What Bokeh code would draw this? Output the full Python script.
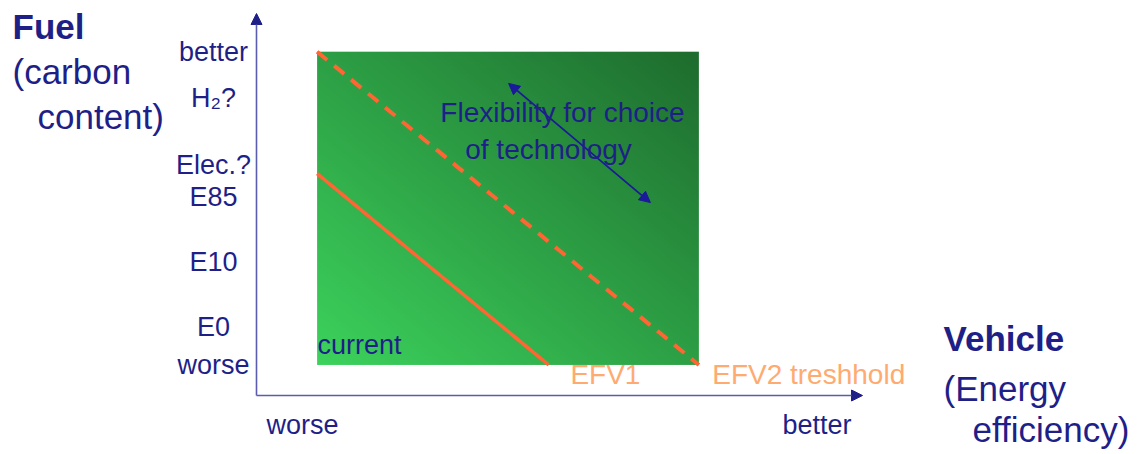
import numpy as np
from bokeh.plotting import figure
from bokeh.models import Range1d, Arrow, NormalHead, Label
from bokeh.core.properties import value
from bokeh.embed import file_html
from bokeh.resources import INLINE

# ---------------- data (chart units: both axes run 0 = worse .. 100 = better) -------------
axis_max = 100
zone_x = [10, 73]            # flexibility zone (vehicle efficiency)
zone_y = [8, 90]             # flexibility zone (fuel carbon content)
current_x = [10, 48.2]       # current / EFV1 limit
current_y = [58.1, 8]
efv2_x = [10, 73]            # EFV2 threshold
efv2_y = [90, 8]
flex_arrow_x = [41.6, 65.0]
flex_arrow_y = [81.7, 50.5]

fuel_labels = ["worse", "E0", "E10", "E85", "Elec.?", "H\u2082?", "better"]
fuel_label_pos = [8.0, 18.0, 35.0, 52.0, 60.4, 77.9, 90.0]
vehicle_labels = ["worse", "better"]
vehicle_label_pos = [7.6, 92.5]
line_labels = ["EFV1", "EFV2 treshhold"]
line_label_pos = [51.8, 75.2]

# ---------------- layout helpers ---------------------------------------------------------
W, H = 1138, 454
SX, SY = 6.06, 3.82          # px per chart unit
OX, OY = 256, 395            # origin in page pixels
def X(px): return (px - OX) / SX
def Y(py): return (OY - py) / SY

NAVY = "#1f1f88"
AXIS = "#5b5bb0"
ORANGE = "#ff6633"
LIGHT_ORANGE = "#ffaa70"
FONT = "Liberation Sans"

p = figure(width=W, height=H, output_backend="svg", toolbar_location=None,
           x_range=Range1d(X(0), X(W)), y_range=Range1d(Y(H), Y(0)),
           min_border=0, outline_line_color=None, background_fill_color="white")
p.axis.visible = False
p.grid.visible = False

# gradient-filled zone
n = 120
img = np.empty((n, n), dtype=np.uint32)
view = img.view(dtype=np.uint8).reshape((n, n, 4))
u = np.linspace(0, 1, n)
t = (u[None, :] + u[:, None]) / 2.0   # 0 at bottom-left, 1 at top-right
c0 = np.array([60, 210, 92]); c1 = np.array([30, 108, 46])
for k in range(3):
    view[:, :, k] = (c0[k] + (c1[k] - c0[k]) * t).astype(np.uint8)
view[:, :, 3] = 255
p.image_rgba(image=[img], x=zone_x[0], y=zone_y[0],
             dw=zone_x[1] - zone_x[0], dh=zone_y[1] - zone_y[0])

# orange lines
p.line(current_x, current_y, line_color=ORANGE, line_width=3.5)
p.line(efv2_x, efv2_y, line_color=ORANGE, line_width=4, line_dash="13 9")

# axes with arrows
p.add_layout(Arrow(x_start=0, y_start=0, x_end=0, y_end=axis_max,
                   line_color=AXIS, line_width=1.6,
                   end=NormalHead(size=11, fill_color=NAVY, line_color=NAVY)))
p.add_layout(Arrow(x_start=0, y_start=0, x_end=axis_max, y_end=0,
                   line_color=AXIS, line_width=1.6,
                   end=NormalHead(size=11, fill_color=NAVY, line_color=NAVY)))

# double-headed flexibility arrow
p.add_layout(Arrow(x_start=flex_arrow_x[0], y_start=flex_arrow_y[0],
                   x_end=flex_arrow_x[1], y_end=flex_arrow_y[1],
                   line_color="#1a1a9a", line_width=1.8,
                   start=NormalHead(size=11, fill_color="#1a1a9a", line_color="#1a1a9a"),
                   end=NormalHead(size=11, fill_color="#1a1a9a", line_color="#1a1a9a")))

# fuel tick labels
p.text(x=[X(213)] * len(fuel_labels), y=fuel_label_pos, text=fuel_labels,
       text_font=value(FONT), text_font_size="27px", text_color=NAVY,
       text_align="center", text_baseline="alphabetic")
# vehicle tick labels
p.text(x=vehicle_label_pos, y=[Y(424)] * 2, text=vehicle_labels,
       text_font=value(FONT), text_font_size="27px", text_color=NAVY,
       text_align="center", text_baseline="alphabetic")
# line labels
p.text(x=line_label_pos, y=[Y(374)] * 2, text=line_labels,
       text_font=value(FONT), text_font_size="28px", text_color=LIGHT_ORANGE,
       text_align="left", text_baseline="alphabetic")

def lab(txt, px, py, size=27, bold=False, color=NAVY, align="left"):
    p.add_layout(Label(x=X(px), y=Y(py - 0.4 * size), text=txt, text_font=FONT,
                       text_font_size=f"{size}px", text_color=color, text_align=align,
                       text_baseline="alphabetic",
                       text_font_style="bold" if bold else "normal"))

lab("current", 317, 355, size=27)
lab("Flexibility for choice", 562, 123, size=28, align="center")
lab("of technology", 548, 160, size=28, align="center")

lab("Fuel", 12, 40, size=35, bold=True)
lab("(carbon", 12, 85, size=35)
lab("content)", 37, 130, size=35)

lab("Vehicle", 943, 352, size=35, bold=True)
lab("(Energy", 943, 402, size=35)
lab("efficiency)", 972, 443, size=35)

open("out.html", "w").write(file_html(p, INLINE))
